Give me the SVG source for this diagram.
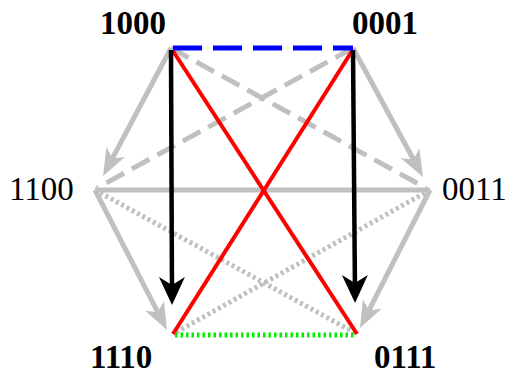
<svg xmlns="http://www.w3.org/2000/svg" width="512" height="374" viewBox="0 0 512 374">
<style>
  .lbl { font-family: "Liberation Serif", "Times New Roman", serif; font-size: 33px; fill: #000; }
  .b { font-weight: bold; }
  .g { stroke: #c0c0c0; stroke-width: 5; fill: none; }
  .dash { stroke-dasharray: 20 9; }
  .dot { stroke-dasharray: 3 3; }
  .red { stroke: #ff0000; stroke-width: 4; fill: none; }
  .blk { stroke: #000; stroke-width: 4.5; fill: none; }
</style>
<defs>
  <marker id="ag" markerUnits="userSpaceOnUse" orient="auto" refX="0" refY="0" markerWidth="40" markerHeight="40" viewBox="-20 -20 40 40" overflow="visible">
    <path d="M8,0 L-19,-10.5 L-12,0 L-19,10.5 Z" fill="#c0c0c0"/>
  </marker>
  <marker id="ab" markerUnits="userSpaceOnUse" orient="auto" refX="0" refY="0" markerWidth="40" markerHeight="40" viewBox="-20 -20 40 40" overflow="visible">
    <path d="M8,0 L-20,-13 L-12,0 L-20,13 Z" fill="#000"/>
  </marker>
</defs>
<g id="connectors">
  <line class="g" x1="95" y1="190" x2="430" y2="190"/>
  <line class="g dash" x1="171" y1="48" x2="426" y2="188"/>
  <line class="g dash" x1="353" y1="48" x2="97" y2="188"/>
  <line class="g dot" x1="95" y1="190" x2="357" y2="334"/>
  <line class="g dot" x1="430" y1="190" x2="173" y2="334"/>
  <line class="g" x1="171" y1="48" x2="106.8" y2="168.9" marker-end="url(#ag)"/>
  <line class="g" x1="353" y1="48" x2="419.2" y2="170" marker-end="url(#ag)"/>
  <line class="g" x1="95" y1="190" x2="163.3" y2="322.9" marker-end="url(#ag)"/>
  <line class="g" x1="430" y1="190" x2="363.6" y2="320.9" marker-end="url(#ag)"/>
  <line class="red" x1="173" y1="51" x2="357" y2="334"/>
  <line class="red" x1="352" y1="51" x2="173" y2="334"/>
  <line class="blk" x1="171" y1="50" x2="172" y2="297" marker-end="url(#ab)"/>
  <line class="blk" x1="353" y1="50" x2="355" y2="295" marker-end="url(#ab)"/>
  <line x1="173" y1="48" x2="353" y2="48" stroke="#0000ff" stroke-width="5" stroke-dasharray="29 11"/>
  <line x1="175" y1="335" x2="356" y2="335" stroke="#00ee00" stroke-width="5" stroke-dasharray="2.5 3"/>
</g>
<g id="n1000"><text class="lbl b" x="100" y="34">1000</text></g>
<g id="n0001"><text class="lbl b" x="352" y="34">0001</text></g>
<g id="n1100"><text class="lbl" x="9" y="200">1100</text></g>
<g id="n0011"><text class="lbl" x="442" y="200">0011</text></g>
<g id="n1110"><text class="lbl b" x="90" y="368">1110</text></g>
<g id="n0111"><text class="lbl b" x="374" y="368">0111</text></g>
</svg>
